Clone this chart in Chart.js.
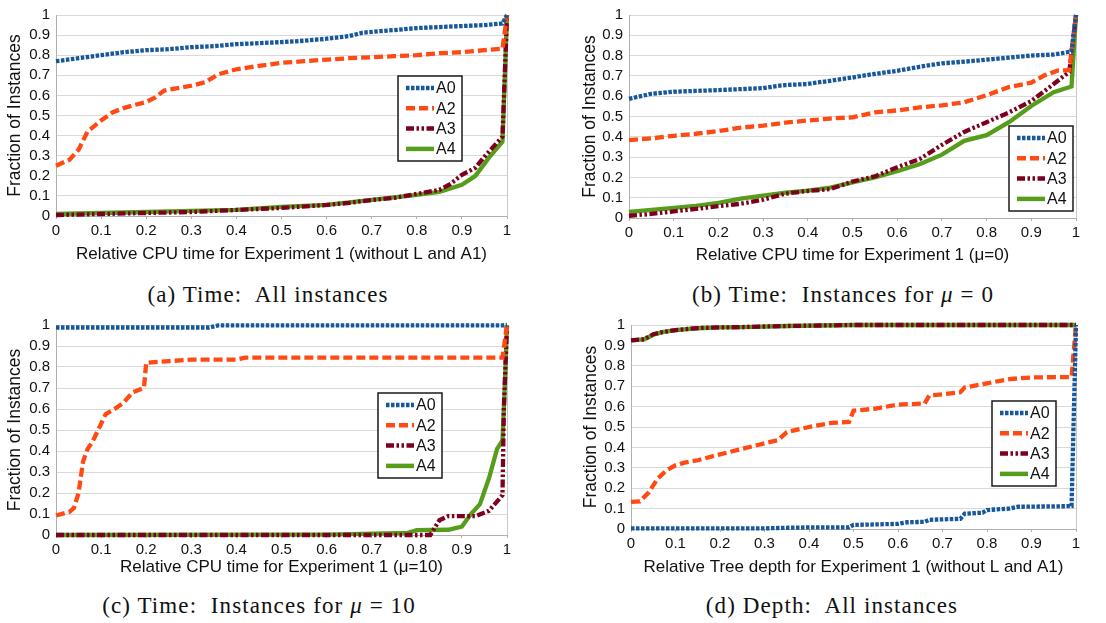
<!DOCTYPE html>
<html>
<head>
<meta charset="utf-8">
<script src="https://cdn.jsdelivr.net/npm/chart.js@4.4.1/dist/chart.umd.min.js"></script>
<style>
  body { margin: 0; background: #fff; width: 1106px; height: 623px; position: relative; overflow: hidden; }
  canvas { position: absolute; }
  .cap { position: absolute; font-family: "Liberation Serif", serif; font-size: 23px; color: #111;
         letter-spacing: 1.1px; white-space: nowrap; transform: translate(-50%, -50%); }
  .cap i { font-style: italic; }
</style>
</head>
<body>
<canvas id="ca" width="530" height="272" style="left:0;top:0"></canvas>
<canvas id="cb" width="546" height="272" style="left:560px;top:0"></canvas>
<canvas id="cc" width="530" height="272" style="left:0;top:310px"></canvas>
<canvas id="cd" width="546" height="272" style="left:560px;top:310px"></canvas>
<div class="cap" style="left:268px;top:295px">(a) Time:&nbsp; All instances</div>
<div class="cap" style="left:843px;top:295px">(b) Time:&nbsp; Instances for <i>μ</i> = 0</div>
<div class="cap" style="left:259px;top:606px">(c) Time:&nbsp; Instances for <i>μ</i> = 10</div>
<div class="cap" style="left:832px;top:606px">(d) Depth:&nbsp; All instances</div>
<script>
// ── data: [x, fraction] ──
const seriesNames = ['A0', 'A2', 'A3', 'A4'];
const xTickLabels = ['0', '0.1', '0.2', '0.3', '0.4', '0.5', '0.6', '0.7', '0.8', '0.9', '1'];
const yTickLabels = ['0', '0.1', '0.2', '0.3', '0.4', '0.5', '0.6', '0.7', '0.8', '0.9', '1'];

// (a) time, all instances
const a_A0 = [[0,0.77],[0.05,0.785],[0.1,0.80],[0.15,0.815],[0.2,0.825],[0.25,0.83],[0.3,0.84],[0.35,0.845],[0.4,0.855],[0.45,0.86],[0.5,0.865],[0.55,0.872],[0.6,0.882],[0.65,0.895],[0.68,0.912],[0.72,0.92],[0.75,0.925],[0.8,0.935],[0.85,0.94],[0.9,0.945],[0.95,0.95],[0.99,0.958],[1,1]];
const a_A2 = [[0,0.25],[0.03,0.28],[0.05,0.33],[0.07,0.42],[0.1,0.475],[0.125,0.515],[0.15,0.537],[0.175,0.553],[0.2,0.567],[0.22,0.59],[0.24,0.624],[0.3,0.648],[0.33,0.665],[0.36,0.705],[0.4,0.73],[0.45,0.747],[0.5,0.762],[0.55,0.77],[0.6,0.778],[0.65,0.785],[0.7,0.79],[0.75,0.795],[0.8,0.80],[0.85,0.81],[0.9,0.815],[0.95,0.825],[0.99,0.832],[1,1]];
const a_A3 = [[0,0.005],[0.1,0.01],[0.2,0.015],[0.3,0.02],[0.4,0.03],[0.5,0.04],[0.6,0.055],[0.65,0.065],[0.7,0.08],[0.75,0.09],[0.8,0.11],[0.85,0.13],[0.875,0.16],[0.9,0.205],[0.93,0.24],[0.95,0.295],[0.97,0.345],[0.99,0.395],[1,1]];
const a_A4 = [[0,0.01],[0.1,0.015],[0.2,0.02],[0.3,0.025],[0.4,0.03],[0.5,0.045],[0.6,0.055],[0.7,0.08],[0.8,0.105],[0.85,0.12],[0.9,0.155],[0.93,0.2],[0.96,0.29],[0.99,0.37],[1,1]];

// (b) time, mu = 0
const b_A0 = [[0,0.587],[0.05,0.612],[0.1,0.622],[0.15,0.626],[0.2,0.63],[0.25,0.635],[0.3,0.64],[0.33,0.65],[0.35,0.655],[0.4,0.66],[0.43,0.67],[0.45,0.676],[0.5,0.692],[0.52,0.70],[0.55,0.71],[0.6,0.725],[0.65,0.745],[0.7,0.762],[0.75,0.77],[0.8,0.78],[0.85,0.79],[0.9,0.80],[0.95,0.805],[0.99,0.82],[1,1]];
const b_A2 = [[0,0.384],[0.05,0.392],[0.1,0.405],[0.15,0.415],[0.2,0.428],[0.25,0.445],[0.3,0.455],[0.35,0.47],[0.4,0.48],[0.45,0.49],[0.5,0.496],[0.55,0.52],[0.6,0.53],[0.65,0.545],[0.7,0.555],[0.75,0.57],[0.8,0.605],[0.85,0.645],[0.9,0.667],[0.93,0.703],[0.96,0.727],[0.985,0.728],[1,1]];
const b_A3 = [[0,0.011],[0.05,0.02],[0.1,0.033],[0.15,0.045],[0.2,0.058],[0.25,0.07],[0.3,0.09],[0.35,0.12],[0.4,0.133],[0.45,0.142],[0.5,0.18],[0.55,0.205],[0.6,0.25],[0.65,0.29],[0.7,0.36],[0.75,0.424],[0.8,0.472],[0.85,0.52],[0.9,0.576],[0.95,0.66],[0.985,0.72],[1,1]];
const b_A4 = [[0,0.03],[0.05,0.04],[0.1,0.05],[0.15,0.06],[0.2,0.075],[0.25,0.095],[0.3,0.11],[0.35,0.125],[0.4,0.135],[0.45,0.15],[0.5,0.175],[0.55,0.2],[0.6,0.23],[0.65,0.265],[0.7,0.312],[0.75,0.38],[0.8,0.408],[0.85,0.472],[0.9,0.552],[0.95,0.62],[0.99,0.648],[1,1]];

// (c) time, mu = 10
const c_A0 = [[0,0.988],[0.34,0.988],[0.36,0.998],[0.99,0.998],[1,1]];
const c_A2 = [[0,0.093],[0.03,0.11],[0.04,0.13],[0.05,0.2],[0.06,0.35],[0.07,0.41],[0.08,0.44],[0.1,0.53],[0.11,0.575],[0.13,0.6],[0.15,0.63],[0.17,0.68],[0.195,0.70],[0.2,0.82],[0.25,0.828],[0.3,0.835],[0.4,0.835],[0.42,0.845],[0.99,0.845],[1,1]];
const c_A3 = [[0,0],[0.83,0],[0.85,0.07],[0.87,0.09],[0.93,0.09],[0.96,0.115],[0.99,0.19],[0.993,0.6],[1,1]];
const c_A4 = [[0,0],[0.6,0.002],[0.78,0.01],[0.8,0.023],[0.87,0.025],[0.9,0.04],[0.92,0.10],[0.94,0.147],[0.96,0.27],[0.978,0.41],[0.99,0.45],[0.995,0.7],[1,1]];

// (d) depth, all instances
const d_A0 = [[0,0.003],[0.3,0.003],[0.33,0.005],[0.4,0.008],[0.49,0.008],[0.5,0.02],[0.6,0.025],[0.62,0.033],[0.66,0.035],[0.67,0.045],[0.74,0.05],[0.75,0.075],[0.79,0.08],[0.8,0.093],[0.85,0.10],[0.87,0.109],[0.99,0.112],[1,1]];
const d_A2 = [[0,0.133],[0.02,0.135],[0.04,0.18],[0.06,0.247],[0.08,0.288],[0.1,0.312],[0.12,0.325],[0.15,0.337],[0.2,0.366],[0.25,0.393],[0.3,0.42],[0.33,0.435],[0.35,0.475],[0.4,0.5],[0.45,0.52],[0.49,0.525],[0.5,0.58],[0.55,0.59],[0.6,0.61],[0.66,0.615],[0.67,0.654],[0.7,0.66],[0.74,0.67],[0.75,0.694],[0.8,0.714],[0.85,0.735],[0.9,0.743],[0.99,0.745],[1,1]];
const d_A3 = [[0,0.925],[0.03,0.93],[0.05,0.955],[0.07,0.965],[0.1,0.975],[0.15,0.985],[0.2,0.988],[0.25,0.99],[0.35,0.995],[0.5,1],[1,1]];
const d_A4 = [[0,0.925],[0.03,0.93],[0.05,0.952],[0.07,0.965],[0.1,0.975],[0.15,0.984],[0.2,0.988],[0.25,0.99],[0.35,0.995],[0.5,1],[1,1]];

// ── styles ──
const seriesColors = ['#16589a', '#ff4a14', '#7e0021', '#579d1c'];
const seriesDash = [[3.5, 1.5], [9, 4], [8, 2.5, 2.5, 2.5, 2.5, 2.5], []];
const textColor = '#111';
const FONT = '"Liberation Sans", Arial, sans-serif';

// legend drawn as a framed box inside the plot
const boxLegend = {
    id: 'boxLegend',
    afterDraw(chart, args, opts) {
        const ctx = chart.ctx;
        const { x, y } = opts, w = 64, h = 85;
        ctx.save();
        ctx.fillStyle = '#fff';
        ctx.fillRect(x, y, w, h);
        ctx.strokeStyle = '#1a1a1a';
        ctx.lineWidth = 1.5;
        ctx.strokeRect(x, y, w, h);
        chart.data.datasets.forEach((ds, i) => {
            const ry = y + 12 + i * 20.3;
            ctx.beginPath();
            ctx.setLineDash(ds.borderDash);
            ctx.lineCap = 'butt';
            ctx.lineWidth = 4.5;
            ctx.strokeStyle = ds.borderColor;
            ctx.moveTo(x + 8, ry);
            ctx.lineTo(x + 36, ry);
            ctx.stroke();
            ctx.setLineDash([]);
            ctx.fillStyle = textColor;
            ctx.font = '16px ' + FONT;
            ctx.textBaseline = 'middle';
            ctx.fillText(ds.label, x + 38, ry + 1);
        });
        ctx.restore();
    }
};

function makeChart(id, series, xTitle, box) {
    const c = document.getElementById(id);
    const W = c.width, H = c.height;
    return new Chart(c, {
        type: 'line',
        data: {
            datasets: series.map((pts, i) => ({
                label: seriesNames[i],
                data: pts.map(p => ({ x: p[0], y: p[1] })),
                borderColor: seriesColors[i],
                borderDash: seriesDash[i],
                borderWidth: 4.3,
                borderCapStyle: 'butt',
                pointRadius: 0,
                fill: false,
                tension: 0,
                clip: false
            }))
        },
        options: {
            responsive: false,
            animation: false,
            layout: { padding: { left: 0, top: box.top, right: W - box.right, bottom: 0 } },
            plugins: {
                legend: { display: false },
                tooltip: { enabled: false },
                boxLegend: box.legend
            },
            scales: {
                x: {
                    type: 'linear', min: 0, max: 1,
                    ticks: {
                        stepSize: 0.1, autoSkip: false, maxRotation: 0, padding: 3,
                        color: textColor, font: { family: FONT, size: 15 },
                        callback: (v, i) => xTickLabels[i]
                    },
                    grid: {
                        color: c => (c.tick && c.tick.value === 1) ? '#c8c8c8' : 'rgba(0,0,0,0)',
                        tickColor: '#b0b0b0', tickLength: 3
                    },
                    border: { display: true, color: '#b0b0b0' },
                    title: {
                        display: true, text: xTitle, color: textColor,
                        font: { family: FONT, size: 17 }, padding: { top: 0, bottom: box.xtp }
                    },
                    afterFit: s => { s.height = H - box.bottom; }
                },
                y: {
                    min: 0, max: 1,
                    ticks: {
                        stepSize: 0.1, autoSkip: false, padding: 6, color: textColor,
                        font: { family: FONT, size: 15 },
                        callback: (v, i) => yTickLabels[i]
                    },
                    grid: { color: '#d9d9d9', drawTicks: false },
                    border: { display: true, color: '#b0b0b0' },
                    title: {
                        display: true, text: 'Fraction of Instances', color: textColor,
                        font: { family: FONT, size: 17.5 }, padding: { top: box.ytp, bottom: 0 }
                    },
                    afterFit: s => { s.width = box.left; }
                }
            }
        },
        plugins: [boxLegend]
    });
}

makeChart('ca', [a_A0, a_A2, a_A3, a_A4], 'Relative CPU time for Experiment 1 (without L and A1)',
    { left: 56, top: 12, right: 507, bottom: 216, xtp: 7, ytp: 4.5, legend: { x: 398, y: 76 } });
makeChart('cb', [b_A0, b_A2, b_A3, b_A4], 'Relative CPU time for Experiment 1 (μ=0)',
    { left: 69, top: 10, right: 516, bottom: 218, xtp: 6, ytp: 19.5, legend: { x: 449, y: 126 } });
makeChart('cc', [c_A0, c_A2, c_A3, c_A4], 'Relative CPU time for Experiment 1 (μ=10)',
    { left: 56, top: 9, right: 507, bottom: 225, xtp: 4, ytp: 4.5, legend: { x: 378, y: 83 } });
makeChart('cd', [d_A0, d_A2, d_A3, d_A4], 'Relative Tree depth for Experiment 1 (without L and A1)',
    { left: 71, top: 14, right: 516, bottom: 219, xtp: 4, ytp: 20.5, legend: { x: 432, y: 91 } });
</script>
</body>
</html>
